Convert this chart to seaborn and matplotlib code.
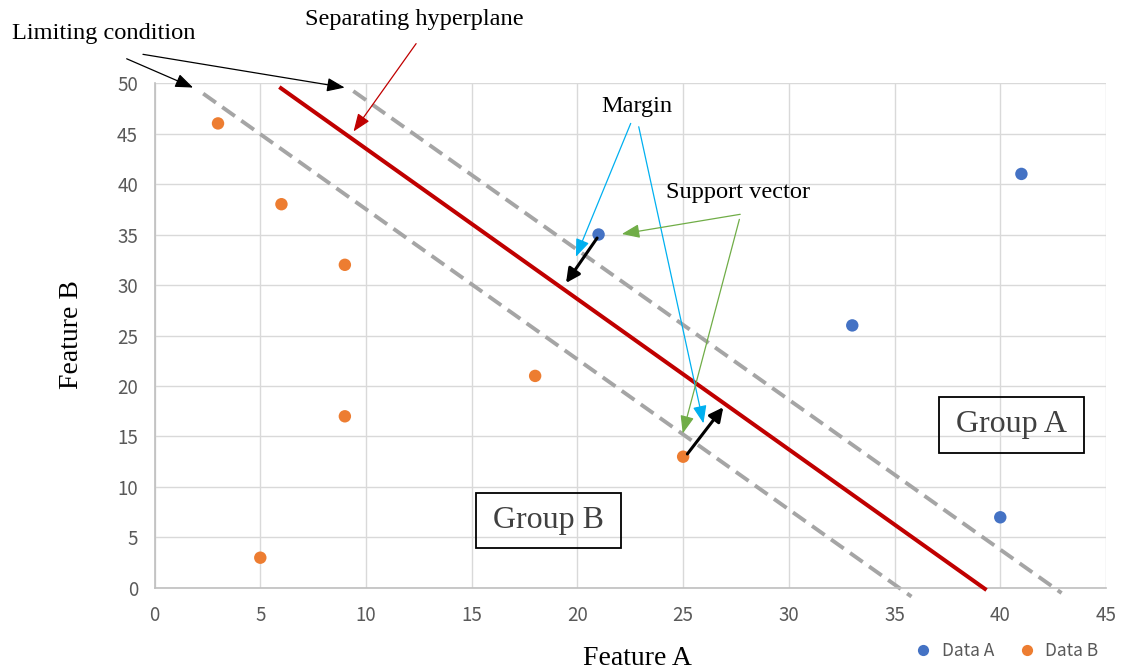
import matplotlib
matplotlib.use("Agg")
import matplotlib.pyplot as plt
from matplotlib.patches import Rectangle
import pandas as pd
import seaborn as sns

# Sample points for the two classes
a_x = [21, 33, 41, 40]
a_y = [35, 26, 41, 7]
b_x = [3, 5, 6, 9, 9, 18, 25]
b_y = [46, 3, 38, 32, 17, 21, 13]
series_names = ["Data A", "Data B"]

# Separating hyperplane and the two limiting (margin) lines: (x0, y0, x1, y1)
hyperplane = (5.9, 49.6, 39.35, -0.2)
limit_upper = (9.4, 49.2, 42.9, -0.5)
limit_lower = (2.3, 48.95, 35.8, -0.85)

# Margin vectors from each support vector towards the hyperplane
margin_vec_a = (20.93, 34.65, 19.46, 30.2)
margin_vec_b = (25.2, 13.27, 26.9, 17.9)

x_ticks = list(range(0, 50, 5))
y_ticks = list(range(0, 55, 5))

sns.set_theme(style="white")
plt.rcParams["font.family"] = ["Noto Sans CJK JP", "DejaVu Sans"]

serif = ["Liberation Serif", "DejaVu Serif"]
tick_grey = "#595959"

df = pd.DataFrame({
    "Feature A": a_x + b_x,
    "Feature B": a_y + b_y,
    "series": [series_names[0]] * len(a_x) + [series_names[1]] * len(b_x),
})

fig = plt.figure(figsize=(11.21, 6.70), dpi=100)
ax = fig.add_axes([0.1379, 0.1224, 0.8487, 0.7537])

ax.set_xlim(0, 45)
ax.set_ylim(0, 50)
ax.set_xticks(x_ticks)
ax.set_yticks(y_ticks)
ax.grid(True, color="#D9D9D9", linewidth=1.0)
ax.set_axisbelow(True)
for side in ["top", "right"]:
    ax.spines[side].set_visible(False)
for side in ["left", "bottom"]:
    ax.spines[side].set_color("#BFBFBF")
    ax.spines[side].set_linewidth(1.2)
ax.tick_params(axis="both", colors=tick_grey, labelsize=13.5, length=0)
ax.tick_params(axis="x", pad=12)
ax.tick_params(axis="y", pad=12)

# Boundary lines
ax.plot(limit_upper[0::2], limit_upper[1::2], color="#A5A5A5", lw=2.8,
        linestyle=(0, (4, 2)), clip_on=False, zorder=2)
ax.plot(limit_lower[0::2], limit_lower[1::2], color="#A5A5A5", lw=2.8,
        linestyle=(0, (4, 2)), clip_on=False, zorder=2)
ax.plot(hyperplane[0::2], hyperplane[1::2], color="#C00000", lw=2.9,
        solid_capstyle="butt", clip_on=False, zorder=3)

sns.scatterplot(data=df, x="Feature A", y="Feature B", hue="series",
                palette={"Data A": "#4472C4", "Data B": "#ED7D31"},
                s=80, edgecolor="none", ax=ax, zorder=4, legend=True)

# Margin vectors
for v in (margin_vec_a, margin_vec_b):
    ax.annotate("", xy=(v[2], v[3]), xytext=(v[0], v[1]),
                arrowprops=dict(arrowstyle="-|>,head_length=0.7,head_width=0.35",
                                color="black", lw=2.2, shrinkA=0, shrinkB=0),
                zorder=5)

ax.set_xlabel("Feature A", fontsize=20, family=serif, color="black")
ax.set_ylabel("Feature B", fontsize=20, family=serif, color="black")
ax.xaxis.set_label_coords(0.507, -0.114)
ax.yaxis.set_label_coords(-0.074, 0.501)

leg = ax.legend(loc="center", bbox_to_anchor=(1002 / 1121, 1 - 651 / 670),
                bbox_transform=fig.transFigure, ncol=2, frameon=False,
                fontsize=12.5, handletextpad=0.05, columnspacing=0.9,
                markerscale=0.9, title=None)
for t in leg.get_texts():
    t.set_color(tick_grey)


def callout(text, text_xy, arrows, color, fontsize=17.6):
    ax.text(text_xy[0], text_xy[1], text, ha="center", va="center",
            fontsize=fontsize, family=serif, color="black", clip_on=False)
    for tail, head in arrows:
        ax.annotate("", xy=head, xytext=tail, annotation_clip=False,
                    arrowprops=dict(arrowstyle="-|>,head_length=0.9,head_width=0.35",
                                    color=color, lw=0.9, shrinkA=0, shrinkB=0),
                    zorder=6)


callout("Limiting condition", (-2.4, 54.95),
        [((-1.32, 52.4), (1.82, 49.55)), ((-0.55, 52.84), (8.99, 49.55))], "black")
callout("Separating hyperplane", (12.3, 56.3),
        [((12.37, 53.9), (9.41, 45.2))], "#C00000")
callout("Margin", (22.8, 47.7),
        [((22.52, 46.0), (19.93, 32.8)), ((22.9, 45.67), (25.96, 16.3))], "#00B0F0")
callout("Support vector", (27.6, 39.2),
        [((27.7, 37.0), (22.1, 35.05)), ((27.66, 36.5), (24.98, 15.3))], "#70AD47")

# Region labels in outlined boxes
for label, (x0, y0, x1, y1) in (("Group B", (15.2, 3.96, 22.06, 9.41)),
                                ("Group A", (37.1, 13.4, 43.96, 18.9))):
    ax.add_patch(Rectangle((x0, y0), x1 - x0, y1 - y0, fill=False,
                           edgecolor="black", lw=1.3, zorder=5))
    ax.text((x0 + x1) / 2, (y0 + y1) / 2, label, ha="center", va="center",
            fontsize=23, family=serif, color="#404040", zorder=5)

fig.savefig("out.png", dpi=100)
